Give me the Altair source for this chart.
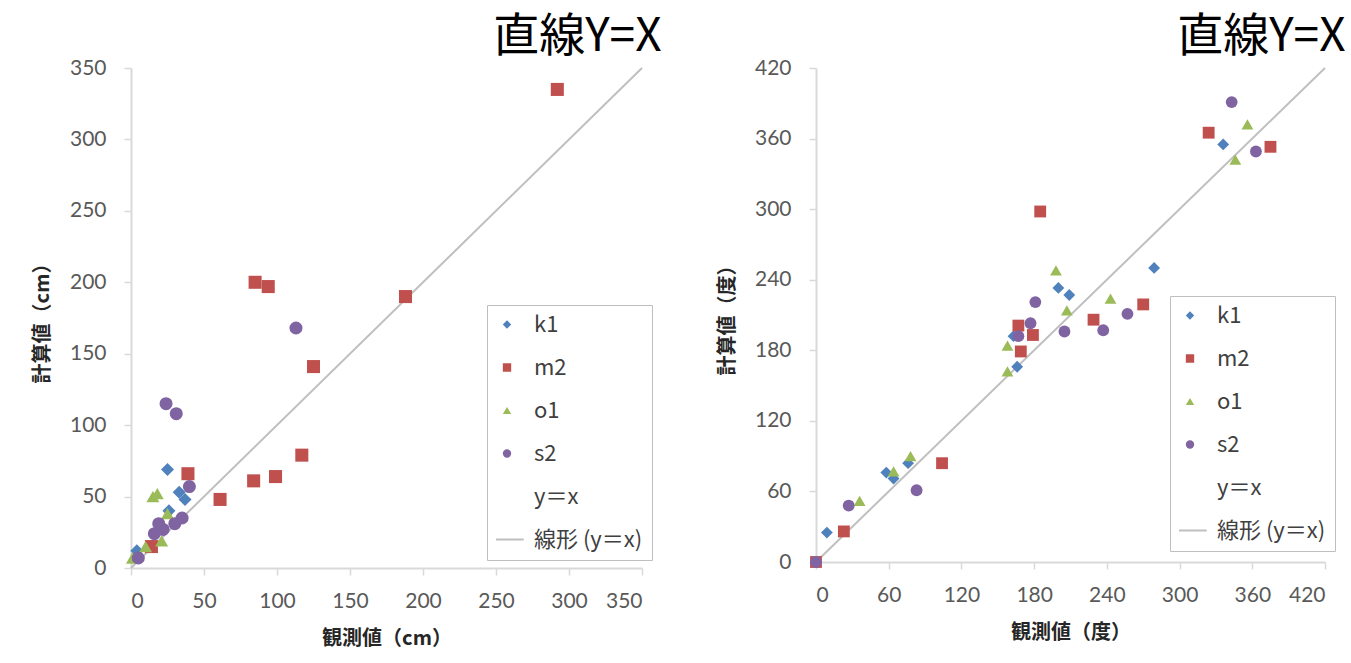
import altair as alt
import pandas as pd

# Series names, colours and marker shapes (legend order)
SERIES = ["k1", "m2", "o1", "s2"]
LEGEND_DOMAIN = ["k1", "m2", "o1", "s2", "y＝x", "線形 (y＝x)"]
LEGEND_COLORS = ["#4F81BD", "#C0504D", "#9BBB59", "#8064A2", "transparent", "#BFBFBF"]
# the last entry is a thin horizontal bar standing in for the y=x line
LEGEND_SHAPES = ["diamond", "square", "triangle-up", "circle", "circle",
                 "M-3,-0.25L4,-0.25L4,0.25L-3,0.25Z"]

# Amplitude (cm): observed vs computed, per constituent
amp_obs = {
    "k1": [25, 33, 37, 4, 26],
    "m2": [292, 85, 94, 125, 188, 117, 99, 84, 61, 39, 14],
    "o1": [15, 18, 25, 21, 1, 10],
    "s2": [24, 31, 40, 19, 16, 30, 35, 5, 113, 22],
}
amp_calc = {
    "k1": [69, 53, 48, 12, 40],
    "m2": [335, 200, 197, 141, 190, 79, 64, 61, 48, 66, 15],
    "o1": [50, 52, 38, 19, 7, 15],
    "s2": [115, 108, 57, 31, 24, 31, 35, 7, 168, 27],
}

# Phase (degrees): observed vs computed, per constituent
pha_obs = {
    "k1": [9, 58, 64, 76, 166, 163, 200, 209, 279, 336],
    "m2": [0, 23, 104, 169, 167, 179, 185, 229, 270, 324, 375],
    "o1": [36, 64, 78, 158, 158, 198, 207, 243, 346, 356],
    "s2": [0, 27, 83, 167, 177, 181, 205, 237, 257, 343, 363],
}
pha_calc = {
    "k1": [25, 76, 71, 84, 166, 192, 233, 227, 250, 355],
    "m2": [0, 26, 84, 179, 201, 193, 298, 206, 219, 365, 353],
    "o1": [52, 77, 90, 162, 184, 248, 214, 224, 342, 372],
    "s2": [0, 48, 61, 192, 203, 221, 196, 197, 211, 391, 349],
}

AMP_TICKS = [0, 50, 100, 150, 200, 250, 300, 350]
PHA_TICKS = [0, 60, 120, 180, 240, 300, 360, 420]


def make_panel(obs, calc, ticks, unit, w, h, lx, ly, marker_size, title_dx):
    rows = []
    for name in SERIES:
        for a, b in zip(obs[name], calc[name]):
            rows.append({"series": name, "obs": a, "calc": b})
    pts = pd.DataFrame(rows)
    top = ticks[-1]
    diag = pd.DataFrame({"obs": [0, top], "calc": [0, top]})

    xs = alt.Scale(domain=[0, top], nice=False)
    ys = alt.Scale(domain=[0, top], nice=False)
    xaxis = alt.Axis(values=ticks, title=f"観測値（{unit}）", labelPadding=15, titlePadding=17)
    yaxis = alt.Axis(values=ticks, title=f"計算値（{unit}）", labelPadding=18, titlePadding=17)

    legend = alt.Legend(
        title=None, orient="none", legendX=lx, legendY=ly,
        strokeColor="#BFBFBF", fillColor="white", padding=9,
        labelFont="Noto Sans CJK JP", labelFontSize=22, labelColor="#404040",
        labelOffset=16, rowPadding=20, symbolSize=70, clipHeight=21,
    )
    cscale = alt.Scale(domain=LEGEND_DOMAIN, range=LEGEND_COLORS)
    sscale = alt.Scale(domain=LEGEND_DOMAIN, range=LEGEND_SHAPES)

    line = alt.Chart(diag).mark_line(color="#BFBFBF", strokeWidth=2).encode(
        x=alt.X("obs:Q", scale=xs, axis=xaxis),
        y=alt.Y("calc:Q", scale=ys, axis=yaxis),
    )
    dots = alt.Chart(pts).mark_point(filled=True, opacity=1, size=marker_size).encode(
        x=alt.X("obs:Q", scale=xs),
        y=alt.Y("calc:Q", scale=ys),
        color=alt.Color("series:N", scale=cscale, legend=legend),
        shape=alt.Shape("series:N", scale=sscale, legend=legend),
    )
    return alt.layer(line, dots).properties(
        width=w, height=h,
        title=alt.TitleParams(
            "直線Y=X", anchor="end", fontSize=46, font="Noto Sans CJK JP",
            fontWeight="normal", color="#000000", dx=title_dx, offset=-50,
            baseline="bottom",
        ),
    )


left = make_panel(amp_obs, amp_calc, AMP_TICKS, "cm", 511, 500, 356, 237, 170, 9)
right = make_panel(pha_obs, pha_calc, PHA_TICKS, "度", 509, 494, 354, 228, 140, 10)

chart = (
    alt.hconcat(left, right, spacing=174, bounds="flush")
    .resolve_scale(color="independent", shape="independent", x="independent", y="independent")
    .resolve_legend(color="independent", shape="independent")
    .properties(padding={"left": 32, "top": 14, "right": 4, "bottom": 12}, background="white")
    .configure_view(stroke=None)
    .configure_axis(
        grid=False, domainColor="#D9D9D9", domainWidth=2, tickColor="#D9D9D9",
        tickSize=7, tickWidth=1.5, labelColor="#595959", labelFont="Lato",
        labelFontSize=21, titleFont="Noto Sans CJK JP", titleFontSize=20,
        titleFontWeight="bold", titleColor="#262626",
    )
)

chart.save("out.html", embed_options={"renderer": "svg", "actions": False})
